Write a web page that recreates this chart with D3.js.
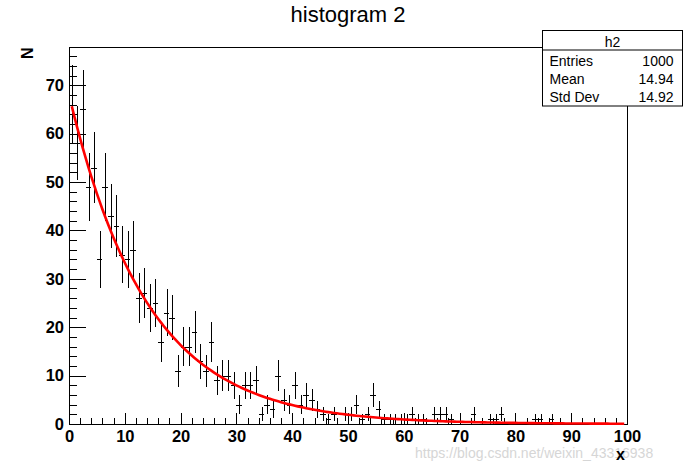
<!DOCTYPE html>
<html>
<head>
<meta charset="utf-8">
<script src="https://cdn.jsdelivr.net/npm/d3@7"></script>
<style>
  body { margin: 0; background: #fff; }
  #chart text { font-family: "Liberation Sans", Arial, Helvetica, sans-serif; }
</style>
</head>
<body>
<div id="chart"></div>
<script>
// histogram h2: 100 bins from 0 to 100, counts
const binLow = 0, binHigh = 100
const counts = [
    66, 58, 65, 49, 53, 34, 49, 43, 41, 35,
    34, 36, 26, 27, 24, 25, 17, 23, 22, 11,
    16, 16, 19, 13, 11, 17, 9, 10, 10, 8,
    4, 8, 8, 9, 2, 4, 3, 10, 5, 4,
    8, 4, 6, 5, 3, 2, 1, 2, 0, 2,
    2, 4, 1, 2, 6, 3, 1, 1, 1, 1,
    1, 2, 1, 1, 0, 2, 2, 2, 1, 0,
    0, 0, 2, 0, 0, 1, 1, 2, 0, 0,
    0, 0, 0, 1, 1, 0, 1, 0, 0, 0,
    0, 0, 0, 0, 0, 0, 0, 0, 0, 0
]
const xTicks = [0, 10, 20, 30, 40, 50, 60, 70, 80, 90, 100]
const yTicks = [0, 10, 20, 30, 40, 50, 60, 70]
const yMax = 77.9

// expo fit: exp(p0 + p1*x)
const fitP0 = 4.22
const fitP1 = -0.0714
const fitRange = [0.5, 99.5]

const statsNames = ["Entries", "Mean", "Std Dev"]
const statsValues = ["1000", "14.94", "14.92"]

// ----------------------------------------------------------

var W = 696, H = 472
var margin = { top: 47, right: 69, bottom: 48, left: 69 },
    width = W - margin.left - margin.right,
    height = H - margin.top - margin.bottom;

var svg = d3.select("#chart")
    .append("svg")
    .attr("width", W)
    .attr("height", H)

// watermark (under everything else)
svg.append("text")
    .attr("x", 415).attr("y", 458)
    .attr("font-size", 14)
    .attr("fill", "#d6d6d6")
    .text("https://blog.csdn.net/weixin_43316938")

var g = svg.append("g")
    .attr("transform", "translate(" + margin.left + "," + margin.top + ")")

var x = d3.scaleLinear().domain([binLow, binHigh]).range([0, width])
var y = d3.scaleLinear().domain([0, yMax]).range([height, 0])

// frame
g.append("rect")
    .attr("x", 0.5).attr("y", 0.5)
    .attr("width", width).attr("height", height)
    .attr("fill", "none").attr("stroke", "#000")
    .attr("shape-rendering", "crispEdges")

// minor ticks (every 2), pointing inwards like ROOT
var minorX = d3.range(binLow, binHigh + 1, 2)
var minorY = d3.range(0, yMax, 2)
g.append("g").attr("transform", "translate(0," + height + ")")
    .call(d3.axisBottom(x).tickValues(minorX).tickSize(-5.6).tickFormat(""))
    .call(a => a.select(".domain").remove())
g.append("g")
    .call(d3.axisLeft(y).tickValues(minorY).tickSize(-8.4).tickFormat(""))
    .call(a => a.select(".domain").remove())

// major ticks with labels
var xAxisGroup = g.append("g").attr("transform", "translate(0," + height + ")")
    .call(d3.axisBottom(x).tickValues(xTicks).tickSize(-11.3).tickPadding(6.5).tickFormat(d3.format("d")))
xAxisGroup.select(".domain").remove()
var yAxisGroup = g.append("g")
    .call(d3.axisLeft(y).tickValues(yTicks).tickSize(-16.7).tickPadding(5).tickFormat(d3.format("d")))
yAxisGroup.select(".domain").remove()

g.selectAll(".tick line").attr("shape-rendering", "crispEdges")
g.selectAll(".tick text")
    .attr("font-size", 16.5).attr("font-weight", "bold")
    .style("font-family", "'Liberation Sans', Arial, sans-serif")

// axis titles
svg.append("text")
    .attr("text-anchor", "end")
    .attr("transform", "translate(32.7,47.5) rotate(-90)")
    .attr("font-size", 16).attr("font-weight", "bold")
    .text("N")
svg.append("text")
    .attr("text-anchor", "end")
    .attr("x", 625).attr("y", 459.5)
    .attr("font-size", 16).attr("font-weight", "bold")
    .text("x")

// title
svg.append("text")
    .attr("text-anchor", "middle")
    .attr("x", 348).attr("y", 22)
    .attr("font-size", 22)
    .text("histogram 2")

// error bars
var bins = counts.map((n, i) => ({ lo: binLow + i, hi: binLow + i + 1, n: n }))
    .filter(d => d.n > 0)
var bars = g.append("g").attr("id", "bars")
    .attr("stroke", "#000").attr("stroke-width", 1)
    .attr("shape-rendering", "crispEdges")
bars.selectAll(".v").data(bins).enter()
    .append("line").attr("class", "v")
    .attr("x1", d => Math.round(x((d.lo + d.hi) / 2)) + 0.5)
    .attr("x2", d => Math.round(x((d.lo + d.hi) / 2)) + 0.5)
    .attr("y1", d => y(d.n - Math.sqrt(d.n)))
    .attr("y2", d => y(d.n + Math.sqrt(d.n)))
bars.selectAll(".h").data(bins).enter()
    .append("line").attr("class", "h")
    .attr("x1", d => x(d.lo))
    .attr("x2", d => x(d.hi))
    .attr("y1", d => Math.round(y(d.n)) + 0.5)
    .attr("y2", d => Math.round(y(d.n)) + 0.5)

// fit curve
var fitX = d3.range(fitRange[0], fitRange[1] + 0.001, 0.5)
g.append("path")
    .datum(fitX)
    .attr("fill", "none")
    .attr("stroke", "#ff0000")
    .attr("stroke-width", 2.6)
    .attr("d", d3.line()
        .x(d => x(d))
        .y(d => y(Math.exp(fitP0 + fitP1 * d))))

// stats box
var box = svg.append("g").attr("transform", "translate(542.5,30.5)")
box.append("rect")
    .attr("width", 140).attr("height", 75.5)
    .attr("fill", "#fff").attr("stroke", "#000")
box.append("line")
    .attr("x1", 0).attr("x2", 140).attr("y1", 19.5).attr("y2", 19.5)
    .attr("stroke", "#000")
box.append("text")
    .attr("text-anchor", "middle")
    .attr("x", 70).attr("y", 16)
    .attr("font-size", 14)
    .text("h2")
statsNames.forEach(function(name, i) {
    box.append("text")
        .attr("x", 7).attr("y", 35 + i * 18.2)
        .attr("font-size", 14)
        .text(name)
    box.append("text")
        .attr("text-anchor", "end")
        .attr("x", 131).attr("y", 35 + i * 18.2)
        .attr("font-size", 14)
        .text(statsValues[i])
})
</script>
</body>
</html>
